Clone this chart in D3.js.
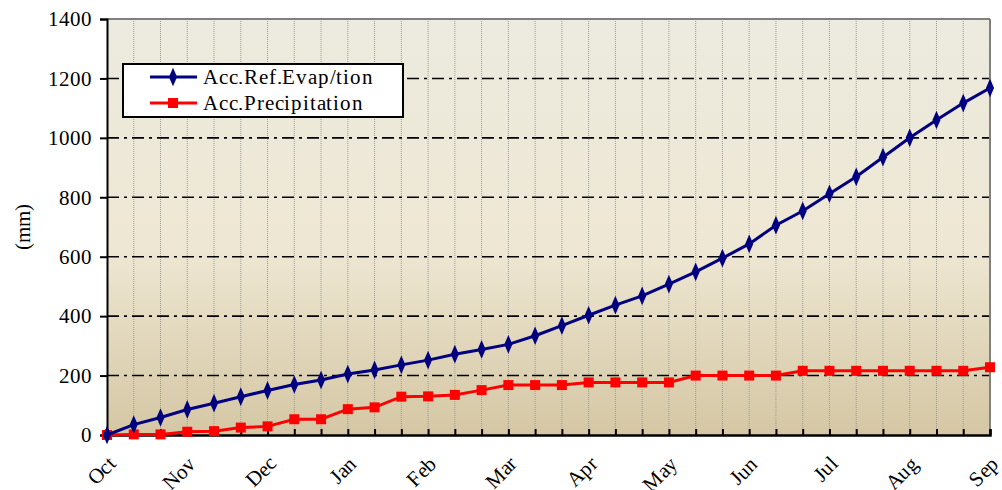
<!DOCTYPE html>
<html><head><meta charset="utf-8">
<script src="https://cdn.jsdelivr.net/npm/d3@7"></script>
<style>
@font-face{font-family:"ChartSerif";src:local("Liberation Serif"),local("LiberationSerif"),local("LiberationSerif-Regular"),local("Times New Roman");}
body{margin:0;background:#fff}
svg{display:block}
svg text{font-family:"ChartSerif","Liberation Serif","Times New Roman",serif !important;}
</style>
</head><body><svg id="c" width="1002" height="490" font-family="Liberation Serif"></svg>
<script>
const monthLabels = ["Oct","Nov","Dec","Jan","Feb","Mar","Apr","May","Jun","Jul","Aug","Sep"];
const evap = [0,35,59,86,107,129,150,170,185,205,219,236,252,272,288,305,334,368,403,437,468,508,549,595,643,706,754,812,869,935,1000,1060,1117,1168];
const precip = [0,2,2,11,13,25,29,53,53,87,93,129,130,135,151,168,168,168,177,177,177,177,200,200,200,200,216,216,216,216,216,216,216,228];
const yTicks = [0,200,400,600,800,1000,1200,1400];
const seriesNames = ["Acc.Ref.Evap/tion","Acc.Precipitation"];

const svg = d3.select("#c");
function serif(sel){ return sel.attr("font-size",21).attr("fill","#000"); }
const L=107,R=990,T=19,B=435;
const idx = d3.range(evap.length);
const x = d3.scaleLinear().domain([0,evap.length-1]).range([L,R]);
const y = d3.scaleLinear().domain([0,1400]).range([B,T]);

const defs = svg.append("defs");
const g = defs.append("linearGradient").attr("id","bg").attr("x1",0).attr("y1",0).attr("x2",0).attr("y2",1);
g.append("stop").attr("offset","0%").attr("stop-color","#ecebdf");
g.append("stop").attr("offset","55%").attr("stop-color","#eee7d3");
g.append("stop").attr("offset","100%").attr("stop-color","#d5c7a4");
svg.append("rect").attr("x",L).attr("y",T).attr("width",R-L).attr("height",B-T).attr("fill","url(#bg)");

// vertical grid
svg.append("g").selectAll("line").data(idx.slice(1,-1)).join("line")
  .attr("x1",d=>x(d)).attr("x2",d=>x(d)).attr("y1",T).attr("y2",B)
  .attr("stroke","#9a9a90").attr("stroke-width",1).attr("stroke-dasharray","1,1");
// horizontal grid
svg.append("g").selectAll("line").data(yTicks.slice(1,-1)).join("line")
  .attr("x1",L).attr("x2",R).attr("y1",d=>y(d)).attr("y2",d=>y(d))
  .attr("stroke","#000").attr("stroke-width",1.6).attr("stroke-dasharray","12,5,3,5");
// top & right border
svg.append("line").attr("x1",L).attr("x2",R).attr("y1",T).attr("y2",T).attr("stroke","#808080").attr("stroke-width",2);
svg.append("line").attr("x1",R).attr("x2",R).attr("y1",T).attr("y2",B).attr("stroke","#808080").attr("stroke-width",2);

// y axis
const ya = svg.append("g").attr("transform",`translate(${L},0)`)
  .call(d3.axisLeft(y).tickValues(yTicks).tickSize(7).tickPadding(8).tickFormat(d3.format("d")));
ya.attr("font-family","Liberation Serif").attr("font-size",21);
ya.select(".domain").attr("stroke","#000").attr("stroke-width",2);
ya.selectAll(".tick line").attr("stroke","#000").attr("stroke-width",2);
serif(ya.selectAll("text"));

// x axis
const xa = svg.append("g").attr("transform",`translate(0,${B})`)
  .call(d3.axisBottom(x).tickValues(idx).tickSize(-6).tickFormat(""));
xa.select(".domain").attr("stroke","#000").attr("stroke-width",2.5);
xa.selectAll(".tick line").attr("stroke","#000").attr("stroke-width",2);
// month labels
serif(svg.append("g").selectAll("text").data(monthLabels).join("text")
  .attr("transform",(d,i)=>`translate(${x(i*3)+10},${B+30}) rotate(-45)`)
  .attr("text-anchor","end")).text(d=>d);

// y label
serif(svg.append("text").attr("transform",`translate(30,${(T+B)/2}) rotate(-90)`)
  .attr("text-anchor","middle")).text("(mm)");

const line = d3.line().x((d,i)=>x(i)).y(d=>y(d));
const diamond = d3.symbol().type(d3.symbolDiamond).size(70);
// precip
svg.append("path").datum(precip).attr("d",line).attr("fill","none").attr("stroke","#ff0000").attr("stroke-width",3);
svg.append("g").selectAll("rect").data(precip).join("rect")
  .attr("x",(d,i)=>x(i)-5).attr("y",d=>y(d)-5).attr("width",10).attr("height",10).attr("fill","#ff0000");
// evap
svg.append("path").datum(evap).attr("d",line).attr("fill","none").attr("stroke","#000080").attr("stroke-width",3);
svg.append("g").selectAll("path").data(evap).join("path")
  .attr("d",diamond).attr("transform",(d,i)=>`translate(${x(i)},${y(d)}) scale(0.9,1.2)`).attr("fill","#000080");

// legend
const lg = svg.append("g");
lg.append("rect").attr("x",123).attr("y",64).attr("width",280).attr("height",53).attr("fill","#fff").attr("stroke","#000").attr("stroke-width",2);
const items = [{n:seriesNames[0],c:"#000080",t:"d"},{n:seriesNames[1],c:"#ff0000",t:"s"}];
items.forEach((it,i)=>{
  const cy = 77 + i*26;
  lg.append("line").attr("x1",150).attr("x2",197).attr("y1",cy).attr("y2",cy).attr("stroke",it.c).attr("stroke-width",3);
  if(it.t==="d") lg.append("path").attr("d",diamond).attr("transform",`translate(173,${cy}) scale(0.9,1.2)`).attr("fill",it.c);
  else lg.append("rect").attr("x",168).attr("y",cy-5).attr("width",10).attr("height",10).attr("fill",it.c);
  serif(lg.append("text").attr("x",203).attr("y",cy+7).attr("letter-spacing",0.8)).text(it.n);
});
</script></body></html>
